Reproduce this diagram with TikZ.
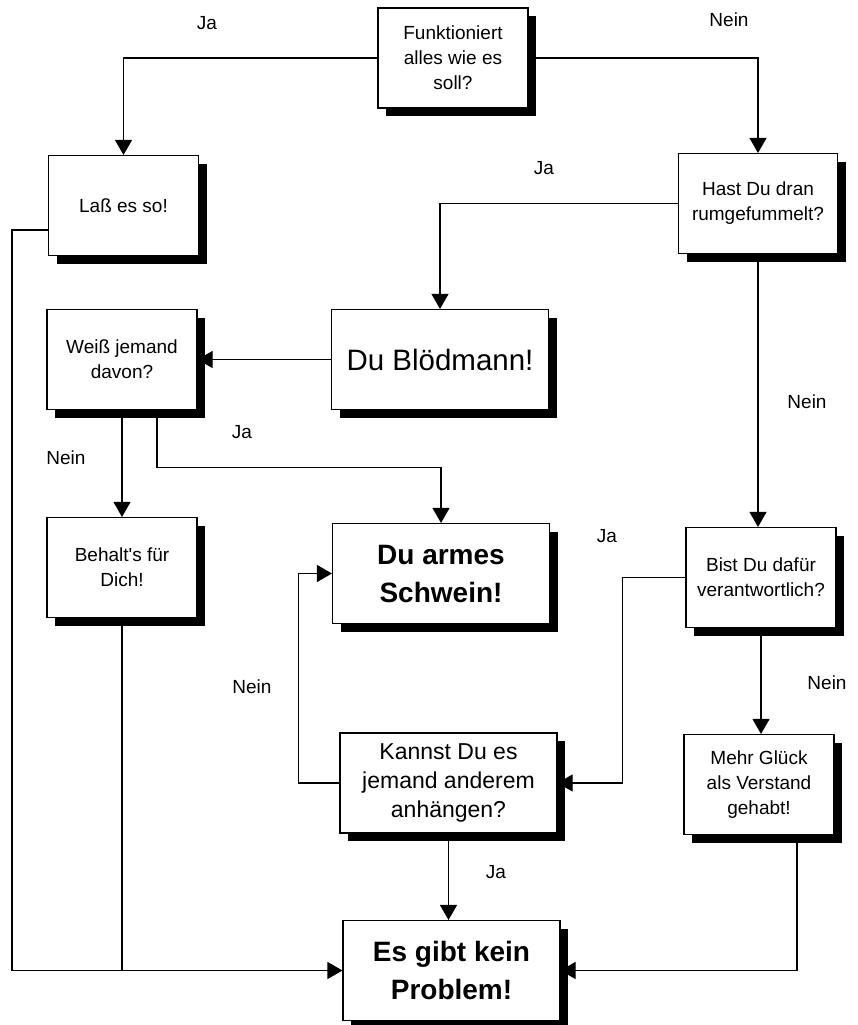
\documentclass[tikz,border=0pt]{standalone}
\usepackage{fontspec}
\setmainfont{Liberation Sans}
\usetikzlibrary{arrows.meta,shadows,calc}
\pgfdeclarelayer{bg}
\pgfsetlayers{bg,main}
\begin{document}
\begin{tikzpicture}[x=1pt,y=-1pt,
  box/.style={draw=black,line width=1.1pt,fill=white,align=center,inner sep=0pt,
    drop shadow={shadow xshift=8pt,shadow yshift=-8pt,fill=black,opacity=1}},
  sbox/.style={box,minimum width=150pt,minimum height=100pt,font=\fontsize{19}{25}\selectfont},
  mbox/.style={box,minimum width=217pt,minimum height=100pt,font=\fontsize{23}{29}\selectfont},
  lbox/.style={box,minimum width=217pt,minimum height=100pt,font=\fontsize{29.5}{38}\selectfont},
  bbox/.style={box,minimum width=217pt,minimum height=100pt,font=\fontsize{28}{38}\selectfont\bfseries},
  lbl/.style={inner sep=0pt,font=\fontsize{19}{25}\selectfont},
  con/.style={draw=black,line width=1.1pt},
  arr/.style={con,-{Triangle[length=15pt,width=17pt]}}]
\useasboundingbox (0,0) rectangle (858,1025);
% boxes
\node[sbox] (F) at (453,58) {Funktioniert\\alles wie es\\soll?};
\node[sbox] (L) at (123.5,205.5) {\raisebox{-6pt}{Laß es so!}};
\node[sbox,minimum width=159pt] (H) at (758,203.5) {Hast Du dran\\rumgefummelt?};
\node[lbox] (B) at (440,359.5) {Du Blödmann!};
\node[sbox] (W) at (122,359.5) {Weiß jemand\\davon?};
\node[sbox] (Be) at (122,567.5) {Behalt\textquotesingle s für\\Dich!};
\node[bbox] (S) at (441,573.5) {Du armes\\Schwein!};
\node[sbox] (V) at (761,577.5) {Bist Du dafür\\verantwortlich?};
\node[mbox] (K) at (448.5,783) {Kannst Du es\\jemand anderem\\anhängen?};
\node[sbox] (M) at (759,784.5) {Mehr Glück\\als Verstand\\gehabt!};
\node[bbox] (E) at (451.5,970.5) {Es gibt kein\\Problem!};
% labels
\node[lbl] (l1) at (207,23) {Ja};
\node[lbl] (l2) at (729,20) {Nein};
\node[lbl] (l3) at (544,168) {Ja};
\node[lbl] (l4) at (807,402) {Nein};
\node[lbl] (l5) at (242,432) {Ja};
\node[lbl] (l6) at (66,458) {Nein};
\node[lbl] (l7) at (607,536) {Ja};
\node[lbl] (l8) at (252,687) {Nein};
\node[lbl] (l9) at (827,683) {Nein};
\node[lbl] (l10) at (496,872) {Ja};
% connectors
\begin{pgfonlayer}{bg}
\draw[arr] (F.west) -| (L.north);
\draw[arr] (F.east) -| (H.north);
\draw[arr] (H.west) -| (B.north);
\draw[arr] (B.west) -- (W.east);
\draw[arr] (W.south) -- (Be.north);
\draw[arr] ([xshift=35pt]W.south) -- ++(0,57) -| (S.north);
\draw[arr] (H.south) -- (H.south |- V.north);
\draw[arr] (V.west) -- ++(-63,0) |- (K.east);
\draw[arr] (K.west) -- ++(-41,0) |- (S.west);
\draw[arr] (V.south) -- (V.south |- M.north);
\draw[arr] (K.south) -- (K.south |- E.north);
\draw[arr] ([xshift=38pt]M.south) |- (E.east);
\draw[arr] ([yshift=-24.5pt]L.west) -- ++(-36,0) |- (E.west);
\draw[con] (Be.south) -- (Be.south |- E.west);
\end{pgfonlayer}
\end{tikzpicture}
\end{document}
